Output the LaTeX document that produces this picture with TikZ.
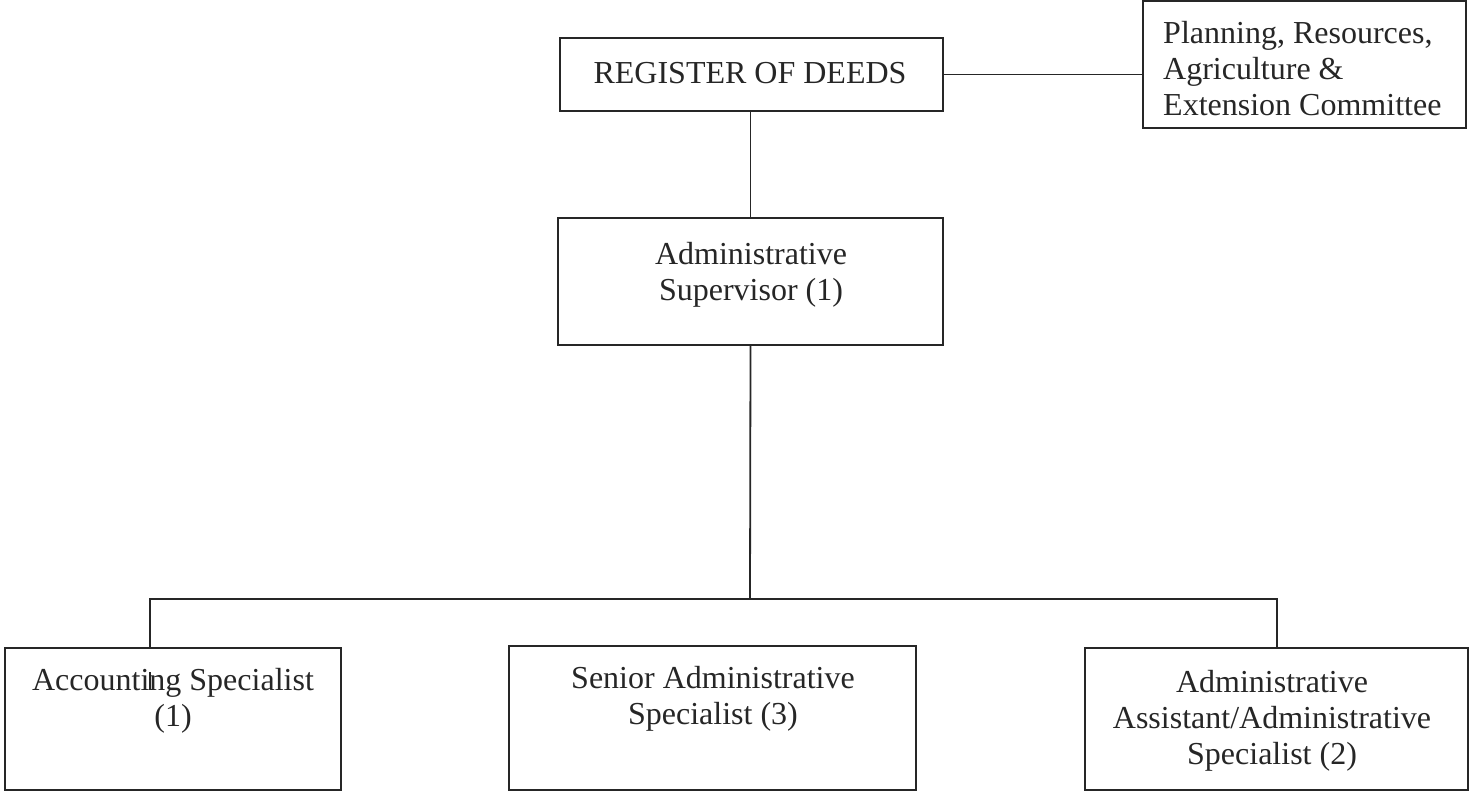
\documentclass[tikz,border=0pt]{standalone}
\usepackage{fontspec}
\setmainfont{Liberation Serif}
\begin{document}
\begin{tikzpicture}[x=1bp,y=-1bp,
  box/.style={draw=black!85, line width=1.8bp, rectangle, inner sep=0pt, outer sep=0pt},
  lbl/.style={inner sep=0pt, font=\fontsize{32bp}{36bp}\selectfont, text=black!85},
  conn/.style={draw=black!85, line width=1.8bp}]
\useasboundingbox (0,0) rectangle (1472,792);
% boxes
\node[box, minimum width=383bp, minimum height=73bp] (reg) at (751.5,74.5) {};
\node[box, minimum width=323bp, minimum height=127bp] (pac) at (1304.5,64.5) {};
\node[box, minimum width=385bp, minimum height=127bp] (sup) at (750.5,281.5) {};
\node[box, minimum width=336bp, minimum height=142bp] (acc) at (173,719) {};
\node[box, minimum width=407bp, minimum height=144bp] (sen) at (712.5,718) {};
\node[box, minimum width=383bp, minimum height=142bp] (ast) at (1276.5,719) {};
% texts
\node[lbl, anchor=north] (regt) at (750,62) {REGISTER OF DEEDS};
\node[lbl, anchor=north west, align=left] (pact) at (1163,21) {Planning, Resources,\\Agriculture \&\\Extension Committee};
\node[lbl, anchor=north, align=center] (supt) at (751,242) {Administrative\\Supervisor (1)};
\node[lbl, anchor=north, align=center] (acct) at (173,668) {Accounting Specialist\\(1)};
\node[lbl, anchor=north, align=center] (sent) at (713,666) {Senior Administrative\\Specialist (3)};
\node[lbl, anchor=north, align=center] (astt) at (1272,670) {Administrative\\Assistant/Administrative\\Specialist (2)};
% connectors
\coordinate (bus) at (750,599);
\coordinate (busL) at (150,599);
\coordinate (busR) at (1277,599);
\coordinate (tickA) at (150,672);
\coordinate (tickB) at (150,690);
\draw[conn] (reg.east) -- (reg.east -| pac.west);
\draw[conn] (reg.south -| sup.north) -- (sup.north);
\draw[conn] (sup.south) -- (bus);
\draw[conn] (busL |- acc.north) -- (busL) -- (busR) -- (busR |- ast.north);
\draw[draw=black!85, line width=1.4bp] (tickA) -- (tickB);
\end{tikzpicture}
\end{document}
